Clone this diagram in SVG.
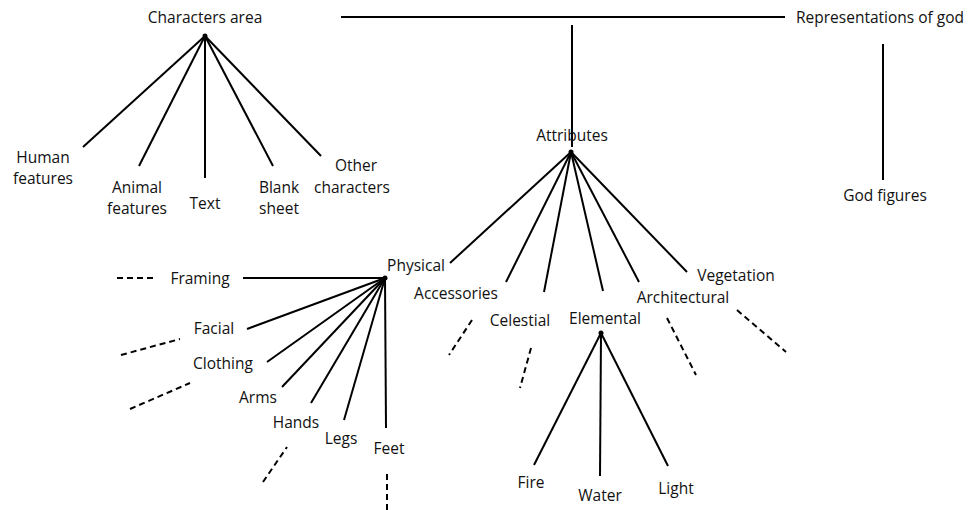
<svg xmlns="http://www.w3.org/2000/svg" width="972" height="510" viewBox="0 0 972 510">
<style>
text{font-family:"Open Sans","Noto Sans",sans-serif;font-size:15.5px;fill:#111;}
.m{text-anchor:middle;}
.c line{stroke:#000;stroke-width:2;fill:none;}
.c line.d{stroke-dasharray:6 4;}
.hub{fill:#000;}
</style>
<rect width="972" height="510" fill="#fff"/>
<g id="connectors" class="c">
<line x1="341" y1="17" x2="785" y2="17"/>
<line x1="572" y1="25" x2="572" y2="147"/>
<line x1="883" y1="44" x2="883" y2="180"/>
<line x1="205" y1="36" x2="83" y2="147"/>
<line x1="205" y1="36" x2="139" y2="166"/>
<line x1="205" y1="36" x2="205" y2="178"/>
<line x1="205" y1="36" x2="273" y2="166"/>
<line x1="205" y1="36" x2="321" y2="156"/>
<line x1="571" y1="152" x2="450" y2="263"/>
<line x1="571" y1="152" x2="506" y2="282"/>
<line x1="571" y1="152" x2="544" y2="292"/>
<line x1="571" y1="152" x2="603" y2="291"/>
<line x1="571" y1="152" x2="639" y2="282"/>
<line x1="571" y1="152" x2="687" y2="272"/>
<line class="d" x1="472" y1="320" x2="449" y2="355"/>
<line class="d" x1="531" y1="348" x2="520" y2="388"/>
<line class="d" x1="667" y1="318" x2="696" y2="375"/>
<line class="d" x1="737" y1="310" x2="786" y2="352"/>
<line x1="601" y1="333" x2="534" y2="465"/>
<line x1="601" y1="333" x2="600" y2="476"/>
<line x1="601" y1="333" x2="668" y2="466"/>
<line x1="385" y1="278" x2="243" y2="278"/>
<line x1="385" y1="278" x2="247" y2="329"/>
<line x1="385" y1="278" x2="267" y2="362"/>
<line x1="385" y1="278" x2="282" y2="387"/>
<line x1="385" y1="278" x2="311" y2="403"/>
<line x1="385" y1="278" x2="344" y2="420"/>
<line x1="385" y1="278" x2="386" y2="428"/>
<line class="d" x1="117" y1="278" x2="155" y2="278"/>
<line class="d" x1="121" y1="355" x2="180" y2="339"/>
<line class="d" x1="130" y1="409" x2="190" y2="383"/>
<line class="d" x1="263" y1="482" x2="287" y2="447"/>
<line class="d" x1="387" y1="474" x2="387" y2="510"/>
<circle class="hub" cx="205" cy="36" r="2.5"/>
<circle class="hub" cx="571" cy="152" r="2.5"/>
<circle class="hub" cx="601" cy="333" r="2.5"/>
<circle class="hub" cx="385" cy="278" r="2.5"/>
</g>
<g id="characters-area"><text class="m" x="205" y="23">Characters area</text></g>
<g id="representations"><text x="796" y="23">Representations of god</text></g>
<g id="human"><text class="m" x="43" y="163">Human</text><text class="m" x="43" y="184">features</text></g>
<g id="animal"><text class="m" x="137" y="193">Animal</text><text class="m" x="137" y="214">features</text></g>
<g id="text-node"><text class="m" x="205" y="209">Text</text></g>
<g id="blank"><text class="m" x="279" y="193">Blank</text><text class="m" x="279" y="214">sheet</text></g>
<g id="other"><text class="m" x="356" y="171">Other</text><text class="m" x="352" y="193">characters</text></g>
<g id="attributes"><text class="m" x="572" y="141">Attributes</text></g>
<g id="god-figures"><text class="m" x="885" y="201">God figures</text></g>
<g id="physical"><text class="m" x="416" y="271">Physical</text></g>
<g id="accessories"><text class="m" x="456" y="299">Accessories</text></g>
<g id="celestial"><text class="m" x="520" y="326">Celestial</text></g>
<g id="elemental"><text class="m" x="605" y="324">Elemental</text></g>
<g id="architectural"><text class="m" x="683" y="303">Architectural</text></g>
<g id="vegetation"><text class="m" x="736" y="281">Vegetation</text></g>
<g id="fire"><text class="m" x="531" y="488">Fire</text></g>
<g id="water"><text class="m" x="600" y="501">Water</text></g>
<g id="light"><text class="m" x="676" y="494">Light</text></g>
<g id="framing"><text class="m" x="200" y="284">Framing</text></g>
<g id="facial"><text class="m" x="214" y="334">Facial</text></g>
<g id="clothing"><text class="m" x="223" y="369">Clothing</text></g>
<g id="arms"><text class="m" x="258" y="403">Arms</text></g>
<g id="hands"><text class="m" x="296" y="428">Hands</text></g>
<g id="legs"><text class="m" x="341" y="444">Legs</text></g>
<g id="feet"><text class="m" x="389" y="454">Feet</text></g>
</svg>
